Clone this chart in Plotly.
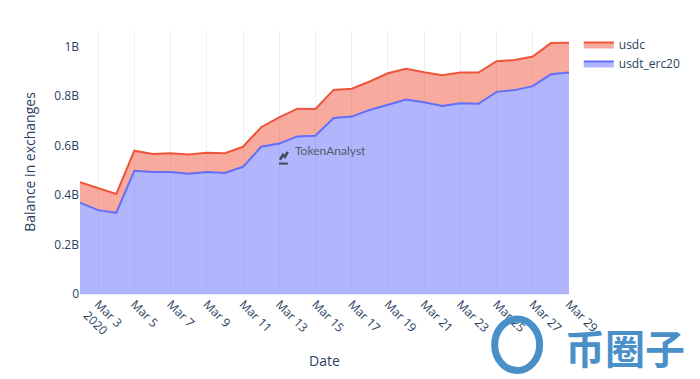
import plotly.graph_objects as go

dates = [f"2020-03-{d:02d}" for d in range(2, 30)]

# values in millions
usdt_erc20 = [369, 339, 328, 498, 493, 493, 486, 493, 489, 514, 595, 608, 637, 640,
              711, 717, 744, 765, 786, 775, 760, 771, 769, 817, 824, 840, 888, 895]
usdc = [83, 88, 76, 81, 73, 76, 78, 78, 80, 81, 79, 106, 112, 108,
        114, 113, 115, 127, 124, 121, 124, 124, 126, 124, 122, 120, 126, 120]

fig = go.Figure()
fig.add_trace(go.Scatter(
    x=dates, y=[v * 1e6 for v in usdt_erc20], name="usdt_erc20",
    mode="lines", stackgroup="one", line=dict(color="#636efa", width=2),
))
fig.add_trace(go.Scatter(
    x=dates, y=[v * 1e6 for v in usdc], name="usdc",
    mode="lines", stackgroup="one", line=dict(color="#EF553B", width=2),
))

# page body has an 8px margin; compensate so the plot sits where the reference has it
fig.update_layout(
    template="plotly_white",
    width=692, height=371,
    margin=dict(l=72, r=131, t=22, b=85),
    font=dict(family="Open Sans", color="#2a3f5f"),
    legend=dict(traceorder="reversed"),
    xaxis=dict(title=dict(text="Date"), dtick=2 * 86400000, tick0="2020-03-03",
               tickangle=45, range=["2020-03-02", "2020-03-29"]),
    yaxis=dict(title=dict(text="Balance in exchanges"), showgrid=False,
               range=[0, 1.067e9]),
)

# TokenAnalyst watermark
fig.add_annotation(text="TokenAnalyst", xref="paper", yref="paper",
                   x=0.513, y=0.545, xanchor="center", yanchor="middle", showarrow=False,
                   font=dict(family="Lato", size=12, color="#555a6a"))
fig.add_shape(type="path", xref="paper", yref="paper",
              path="M 0.409 0.508 L 0.415 0.527 L 0.419 0.519 L 0.425 0.538",
              line=dict(color="#444a5a", width=2.5))
fig.add_shape(type="line", xref="paper", yref="paper",
              x0=0.407, x1=0.425, y0=0.494, y1=0.494,
              line=dict(color="#444a5a", width=2))

# site watermark (bottom right)
fig.add_shape(type="circle", xref="paper", yref="paper",
              x0=0.848, x1=0.940, y0=-0.29, y1=-0.095,
              line=dict(color="#4a90c8", width=7))
fig.add_annotation(text="<b>币圈子</b>", xref="paper", yref="paper",
                   x=1.114, y=-0.20, xanchor="center", yanchor="middle", showarrow=False,
                   font=dict(family="Noto Sans CJK SC", size=40, color="#4a90c8"))

fig.write_html("out.html")
